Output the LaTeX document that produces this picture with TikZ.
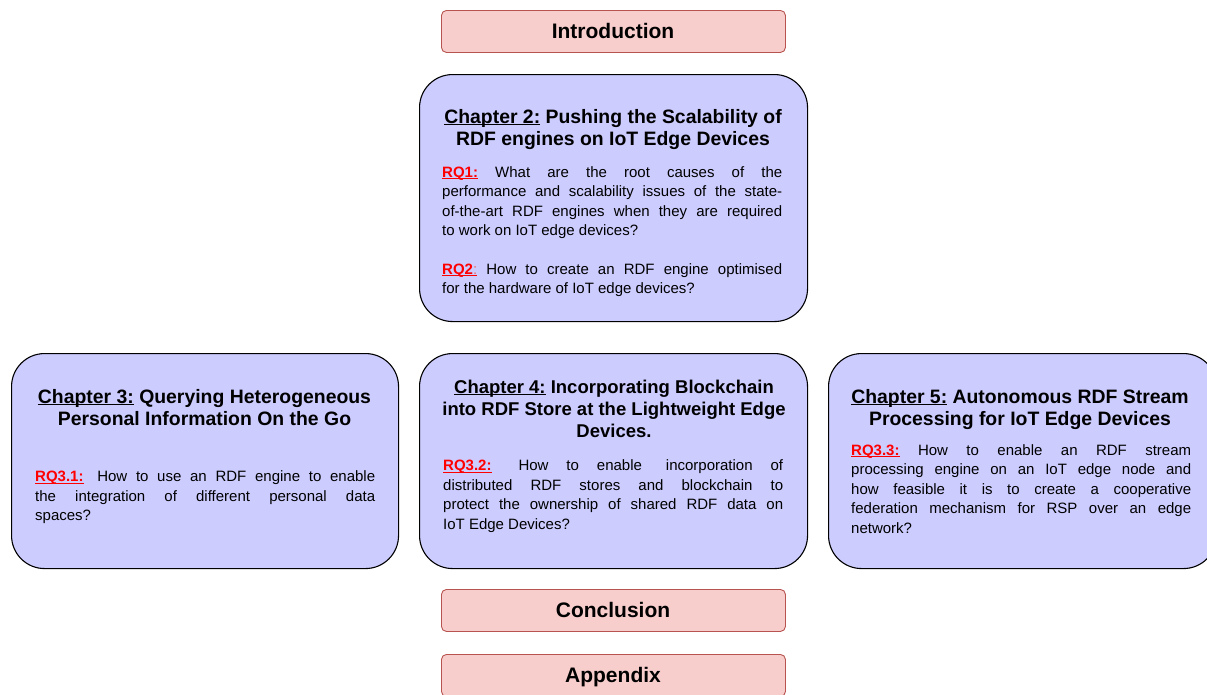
\documentclass[tikz,border=0pt]{standalone}
\usepackage{fontspec}
\setmainfont{Liberation Sans}

\definecolor{chapfill}{HTML}{CCCCFF}
\definecolor{partfill}{HTML}{F8CECC}
\definecolor{partdraw}{HTML}{B85450}
\definecolor{rqred}{HTML}{FF0000}
\definecolor{rqlight}{HTML}{EA6B66}

% underline set just below the baseline, through the descenders
\newcommand\lowul[1]{\leavevmode\setbox0\hbox{#1}\rlap{\rule[-2.3pt]{\wd0}{1.1pt}}\box0\relax}
% one fully justified line of a paragraph
\newcommand\jline[1]{\makebox[\linewidth][s]{#1}\par}
% research-question label
\newcommand\rqlabel[1]{\textcolor{rqred}{\lowul{\textbf{#1}}}}
% chapter label in a heading
\newcommand\chaplabel[1]{\lowul{#1}}

\tikzset{
  chapbox/.style={draw=black, line width=1.1pt, fill=chapfill, rounded corners=33pt,
                  inner sep=0pt, anchor=north west},
  partbox/.style={draw=partdraw, line width=0.9pt, fill=partfill, rounded corners=5pt,
                  minimum width=344pt, minimum height=42pt, inner sep=0pt, anchor=north west},
  parttext/.style={anchor=base, inner sep=0pt, font=\fontsize{21}{24}\selectfont\bfseries},
  headtext/.style={anchor=base, inner sep=0pt},
  bodytext/.style={anchor=base west, inner sep=0pt},
}

\newcommand\headbox[2][19.4]{\parbox[t]{380pt}{\centering\fontsize{#1}{22}\selectfont\bfseries #2}}
\newcommand\bodybox[1]{\parbox[t]{340pt}{\fontsize{15}{19.5}\selectfont #1}}

\begin{document}
\begin{tikzpicture}[x=1pt, y=-1pt]
\useasboundingbox (0,0) rectangle (1207,694);
\clip (0,0) rectangle (1207,694);
\fill[white] (0,0) rectangle (1207,694);

% ---- front and back matter ----
\node[partbox] (intro) at (441,10) {};
\node[parttext] (introtext) at (613,38) {Introduction};

\node[partbox] (concl) at (441,589) {};
\node[parttext] (concltext) at (613,617) {Conclusion};

\node[partbox] (app) at (441,654) {};
\node[parttext] (apptext) at (613,682) {Appendix};

% ---- Chapter 2 ----
\node[chapbox, minimum width=388pt, minimum height=247pt] (ch2) at (419,74) {};
\node[headtext] (ch2head) at (613,123)
  {\headbox{\chaplabel{Chapter 2:} Pushing the Scalability of\\RDF engines on IoT Edge Devices}};
\node[bodytext] (rq1) at (442,177) {\bodybox{%
  \jline{\rqlabel{RQ1:} What are the root causes of the}
  \jline{performance and scalability issues of the state-}
  \jline{of-the-art RDF engines when they are required}
  to work on IoT edge devices?}};
\node[bodytext] (rq2) at (442,274) {\bodybox{%
  \jline{\textcolor{rqred}{\lowul{\textbf{RQ2}\textcolor{rqlight}{:}}} How to create an RDF engine optimised}
  for the hardware of IoT edge devices?}};

% ---- Chapter 3 ----
\node[chapbox, minimum width=387pt, minimum height=215pt] (ch3) at (11,353) {};
\node[headtext] (ch3head) at (204.5,403)
  {\headbox{\chaplabel{Chapter 3:} Querying Heterogeneous\\Personal Information On the Go}};
\node[bodytext] (rq31) at (35,481.5) {\bodybox{%
  \jline{\rqlabel{RQ3.1:}\hspace*{5pt} How to use an RDF engine to enable}
  \jline{the integration of different personal data}
  spaces?}};

% ---- Chapter 4 ----
\node[chapbox, minimum width=388pt, minimum height=215pt] (ch4) at (419,353) {};
\node[headtext] (ch4head) at (614,393)
  {\headbox[18.5]{\chaplabel{Chapter 4:} Incorporating Blockchain\\into RDF Store at the Lightweight Edge\\Devices.}};
\node[bodytext] (rq32) at (443,470.5) {\bodybox{%
  \jline{\rqlabel{RQ3.2:}\hspace*{9pt} How to enable\hspace*{6pt} incorporation of}
  \jline{distributed RDF stores and blockchain to}
  \jline{protect the ownership of shared RDF data on}
  IoT Edge Devices?}};

% ---- Chapter 5 ----
\node[chapbox, minimum width=388pt, minimum height=215pt] (ch5) at (828,353) {};
\node[headtext] (ch5head) at (1020,403)
  {\headbox{\chaplabel{Chapter 5:} Autonomous RDF Stream\\Processing for IoT Edge Devices}};
\node[bodytext] (rq33) at (851,455) {\bodybox{%
  \jline{\rqlabel{RQ3.3:} How to enable an RDF stream}
  \jline{processing engine on an IoT edge node and}
  \jline{how feasible it is to create a cooperative}
  \jline{federation mechanism for RSP over an edge}
  network?}};
\end{tikzpicture}
\end{document}
